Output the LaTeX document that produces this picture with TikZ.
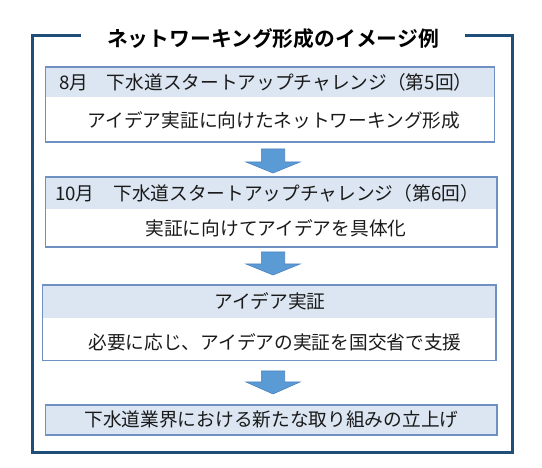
\documentclass[tikz,border=0pt]{standalone}
\usepackage{fontspec}
\usetikzlibrary{calc}
\newfontfamily\jp{Noto Sans CJK JP}
\newfontfamily\jpbold{Noto Sans CJK JP Bold}
\definecolor{framec}{HTML}{1F4E79}
\definecolor{boxc}{HTML}{6F90C2}
\definecolor{hdrc}{HTML}{DCE6F2}
\definecolor{arrowfill}{HTML}{5B9BD5}
\definecolor{arrowline}{HTML}{4A82C0}
\definecolor{txt}{HTML}{1A1A1A}
\begin{document}
\begin{tikzpicture}[x=1pt,y=-1pt,
  frameline/.style={draw=framec,line width=3pt,line join=miter},
  boxline/.style={draw=boxc,line width=1.1pt},
  hdrband/.style={fill=hdrc},
  label/.style={inner sep=0pt,text=txt,font=\jp\fontsize{18.7}{22}\selectfont},
  titlelabel/.style={inner sep=0pt,text=black,font=\jpbold\fontsize{20.8}{24}\selectfont},
  downarrow/.style={fill=arrowfill,draw=arrowline,line width=0.6pt,line join=miter}]
\useasboundingbox (0,0) rectangle (542,468);
% outer frame with title gap
\draw[frameline] (81,35.5) -- (32,35.5) -- (32,453) -- (512.5,453) -- (512.5,35.5) -- (465,35.5);
\node[titlelabel] (title) at (273,38.5) {ネットワーキング形成のイメージ例};
% box 1
\fill[hdrband] (45.5,67) rectangle (494.5,97);
\draw[boxline] (45.5,67) rectangle (494.5,142);
\node[label,anchor=west] (h1) at (59,82) {8月　下水道スタートアップチャレンジ（第5回）};
\node[label] (t1) at (274,120.5) {アイデア実証に向けたネットワーキング形成};
% arrow 1
\coordinate (a1) at (273,149);
\draw[downarrow] ($(a1)+(-11.7,0)$) -- ($(a1)+(11.7,0)$) -- ($(a1)+(11.7,13)$) -- ($(a1)+(27,13)$) -- ($(a1)+(0,24)$) -- ($(a1)+(-27,13)$) -- ($(a1)+(-11.7,13)$) -- cycle;
% box 2
\fill[hdrband] (45.5,177) rectangle (497,209);
\draw[boxline] (45.5,177) rectangle (497,247);
\node[label,anchor=west] (h2) at (55,193) {10月　下水道スタートアップチャレンジ（第6回）};
\node[label] (t2) at (276,228.5) {実証に向けてアイデアを具体化};
% arrow 2
\coordinate (a2) at (273,252);
\draw[downarrow] ($(a2)+(-11.7,0)$) -- ($(a2)+(11.7,0)$) -- ($(a2)+(11.7,12)$) -- ($(a2)+(27,12)$) -- ($(a2)+(0,23)$) -- ($(a2)+(-27,12)$) -- ($(a2)+(-11.7,12)$) -- cycle;
% box 3
\fill[hdrband] (42.5,285) rectangle (496,318);
\draw[boxline] (42.5,285) rectangle (496,360.5);
\node[label] (h3) at (270,301) {アイデア実証};
\node[label] (t3) at (275,342.5) {必要に応じ、アイデアの実証を国交省で支援};
% arrow 3
\coordinate (a3) at (273,371);
\draw[downarrow] ($(a3)+(-11.7,0)$) -- ($(a3)+(11.7,0)$) -- ($(a3)+(11.7,11)$) -- ($(a3)+(27,11)$) -- ($(a3)+(0,23)$) -- ($(a3)+(-27,11)$) -- ($(a3)+(-11.7,11)$) -- cycle;
% box 4
\fill[hdrband] (45.5,405) rectangle (497,435);
\draw[boxline] (45.5,405) rectangle (497,435);
\node[label] (t4) at (271.5,419) {下水道業界における新たな取り組みの立上げ};
\end{tikzpicture}
\end{document}
